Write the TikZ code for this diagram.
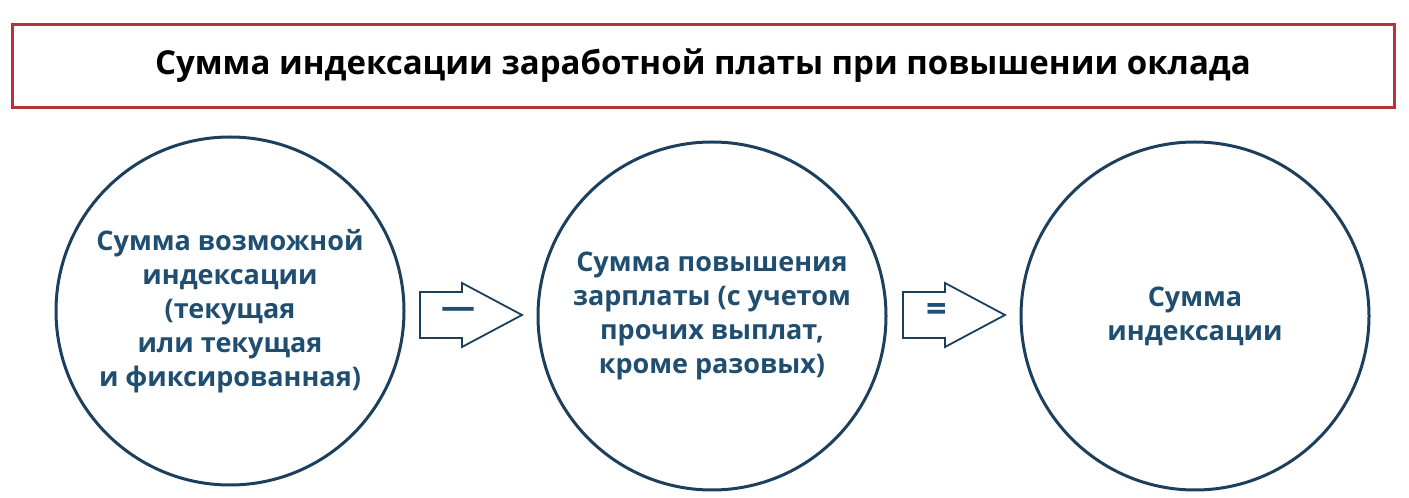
\documentclass[tikz,border=0pt]{standalone}
\usepackage{fontspec}
\setmainfont{Open Sans}
\definecolor{navy}{HTML}{1B3F5C}
\definecolor{txt}{HTML}{1F4E70}
\definecolor{redb}{HTML}{B8323A}
\begin{document}
\begin{tikzpicture}[x=1pt,y=1pt,
  circ/.style={circle,draw=navy,line width=3pt,minimum size=348pt,inner sep=0pt},
  ctext/.style={text=txt,font=\fontsize{27}{34}\selectfont\bfseries,align=center},
  barrow/.style={draw=navy,line width=1.8pt,line join=miter}]
\useasboundingbox (0,0) rectangle (1409,498);
\node[draw=redb,line width=3pt,minimum width=1382pt,minimum height=83pt,font=\fontsize{33}{36}\selectfont\bfseries] (title) at (703,432) {Сумма индексации заработной платы при повышении оклада};
\node[circ] (c1) at (230,187) {};
\node[circ] (c2) at (712,182) {};
\node[circ] (c3) at (1195,182) {};
\node[ctext] (t1) at (c1) {Сумма возможной\\индексации\\(текущая\\или текущая\\и фиксированная)};
\node[ctext] (t2) at (c2) {Сумма повышения\\зарплаты (с учетом\\прочих выплат,\\кроме разовых)};
\node[ctext] (t3) at (c3) {Сумма\\индексации};
\foreach \n/\x in {a1/420,a2/903}{
  \coordinate (\n) at (\x,183);
  \draw[barrow] (\n) ++(0,23) -- ++(42,0) -- ++(0,9) -- ++(60,-32) -- ++(-60,-32) -- ++(0,9) -- ++(-42,0) -- cycle;
}
\node[font=\fontsize{34}{34}\selectfont\bfseries,text=txt] (m) at ([xshift=38pt,yshift=2pt]a1) {—};
\node[font=\fontsize{36}{36}\selectfont\bfseries,text=txt] (e) at ([xshift=34pt,yshift=2pt]a2) {=};
\end{tikzpicture}
\end{document}
